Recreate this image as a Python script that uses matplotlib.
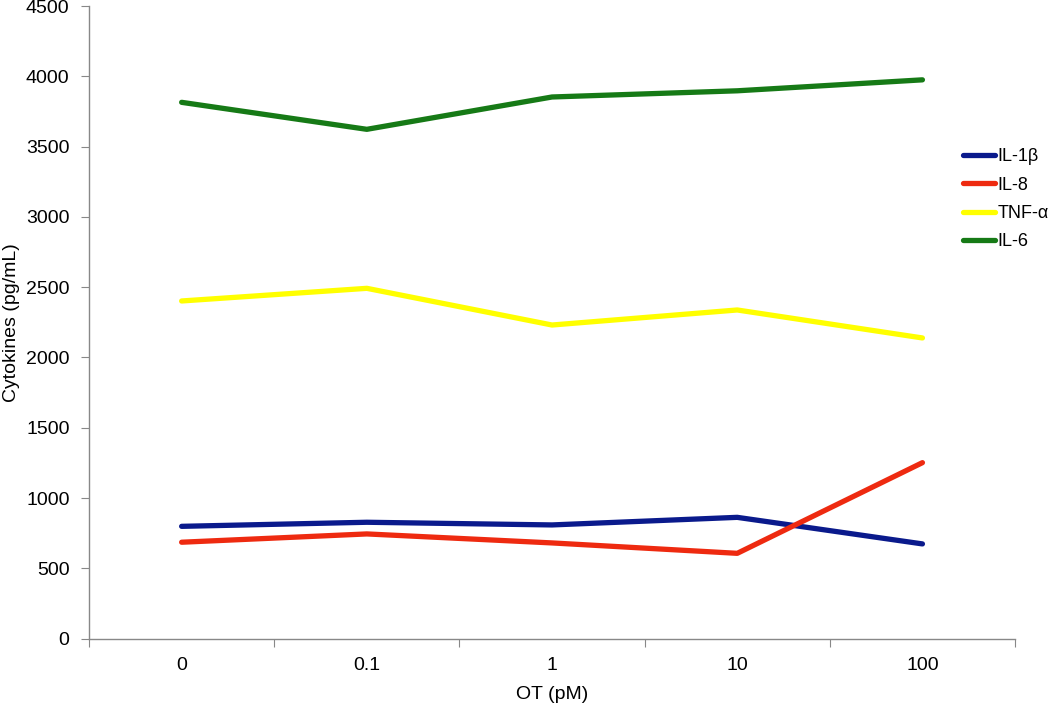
import matplotlib
matplotlib.use("Agg")
import matplotlib.pyplot as plt
import numpy as np

categories = ["0", "0.1", "1", "10", "100"]
il1b = [799, 828, 809, 863, 674]
il8 = [686, 745, 681, 607, 1252]
tnf = [2402, 2492, 2231, 2338, 2139]
il6 = [3815, 3623, 3853, 3897, 3975]
series_names = ["IL-1β", "IL-8", "TNF-α", "IL-6"]
colors = ["#0a1a8c", "#ee2a10", "#ffff00", "#167a16"]

plt.rcParams['font.family'] = ['Liberation Sans', 'DejaVu Sans']

fig = plt.figure(figsize=(10.5, 7.09), dpi=100)
ax = fig.add_axes([0.0848, 0.0992, 0.8819, 0.8923])

x = np.arange(len(categories))
for vals, name, c in zip([il1b, il8, tnf, il6], series_names, colors):
    ax.plot(x, vals, color=c, lw=3.8, label=name, solid_capstyle='round', solid_joinstyle='round')

ax.set_xlim(-0.5, len(categories) - 0.5)
ax.set_ylim(0, 4500)
ax.set_yticks(np.arange(0, 4501, 500))
ax.set_xticks(np.arange(-0.5, len(categories), 1.0))
ax.set_xticklabels([])
ax.set_xticks(x, minor=True)
ax.set_xticklabels(categories, minor=True)
ax.tick_params(axis='x', which='minor', length=0, pad=13, labelsize=14)
ax.tick_params(axis='x', which='major', length=6, direction='out', color='#888888')
ax.tick_params(axis='y', length=6, direction='out', color='#888888', pad=8, labelsize=14)

for s in ['top', 'right']:
    ax.spines[s].set_visible(False)
for s in ['left', 'bottom']:
    ax.spines[s].set_color('#888888')
    ax.spines[s].set_linewidth(1.0)

ax.set_xlabel("OT (pM)", fontsize=14, labelpad=9)
fig.text(12 / 1050, 0.0992 + 0.8923 / 2, "Cytokines (pg/mL)", rotation=90,
         ha='center', va='center', fontsize=14)

leg = ax.legend(loc='center left', bbox_to_anchor=(0.9105, 0.719), bbox_transform=fig.transFigure,
                frameon=False, fontsize=13, handlelength=1.75, handletextpad=0.15,
                labelspacing=0.62, borderaxespad=0)

fig.savefig("out.png", dpi=100)
